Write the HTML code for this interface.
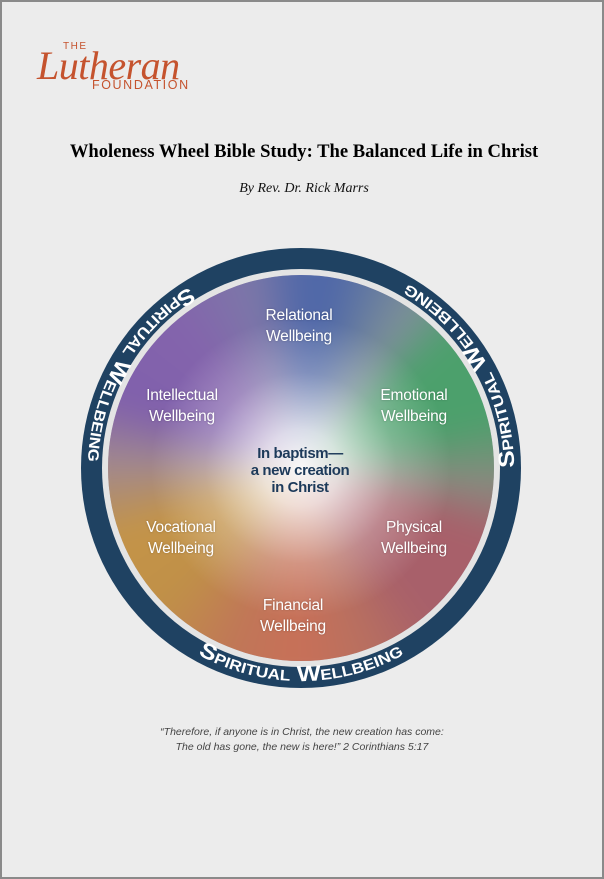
<!DOCTYPE html>
<html><head><meta charset="utf-8"><style>
html,body{margin:0;padding:0}
body{width:604px;height:879px;background:#ececec;position:relative;overflow:hidden;font-family:"Liberation Sans",sans-serif}
.frame{position:absolute;left:0;top:0;width:600px;height:875px;border:2px solid #8a8a8a}
.t{position:absolute;white-space:nowrap}
.disc{position:absolute;left:108px;top:275px;width:386px;height:386px;border-radius:50%;overflow:hidden;background:#b0a8b8}
.cg{position:absolute;left:-30px;top:-30px;width:446px;height:446px;
background:conic-gradient(from 0deg,#5068a8 0deg,#5068a8 10deg,#7e9098 35deg,#4ca06c 50deg,#4ca06c 75deg,#8a8a80 95deg,#a8606a 110deg,#a8606a 140deg,#b87060 160deg,#c87058 180deg,#c07658 200deg,#c09048 225deg,#c49448 250deg,#a08890 272deg,#8060ac 290deg,#8464ac 320deg,#7c78a8 345deg,#5068a8 360deg);
filter:blur(14px)}
.rg{position:absolute;left:0;top:0;width:386px;height:386px;
background:radial-gradient(circle at 50% 50%,rgba(255,255,255,.95) 0,rgba(255,255,255,.75) 14%,rgba(255,255,255,.25) 35%,rgba(255,255,255,0) 55%)}
.lab{position:absolute;color:#fff;font-size:15.5px;line-height:21px;text-align:center;width:140px;letter-spacing:-0.2px;text-shadow:0 0 2px rgba(0,0,0,.25)}
</style></head><body>
<div class="frame"></div>
<div class="t" style="left:63px;top:41px;font-size:10px;letter-spacing:1.5px;color:#c5532e">THE</div>
<div class="t" style="left:37px;top:42px;font-family:'Liberation Serif',serif;font-style:italic;font-size:40px;color:#c5532e;letter-spacing:-0.5px">Lutheran</div>
<div class="t" style="left:92px;top:78px;font-size:12.5px;letter-spacing:1.6px;color:#c5532e">FOUNDATION</div>
<div class="t" style="left:0;width:608px;text-align:center;top:141px;font-family:'Liberation Serif',serif;font-weight:bold;font-size:18.6px;color:#000">Wholeness Wheel Bible Study: The Balanced Life in Christ</div>
<div class="t" style="left:0;width:608px;text-align:center;top:181px;font-family:'Liberation Serif',serif;font-style:italic;font-size:14px;color:#111">By Rev. Dr. Rick Marrs</div>

<svg style="position:absolute;left:0;top:0" width="604" height="879">
<circle cx="301" cy="468" r="220" fill="#1f4262"/>
<circle cx="301" cy="468" r="199" fill="#e4e4e4"/>
</svg>
<div class="disc"><div class="cg"></div><div class="rg"></div></div>
<svg style="position:absolute;left:0;top:0" width="604" height="879">
<defs><path id="ring" d="M194.5,652.5 A213,213 0 1,0 407.5,283.5 A213,213 0 1,0 194.5,652.5"/></defs>
<g fill="#fff" font-family="Liberation Sans,sans-serif" font-weight="bold" font-size="22" style="font-variant:small-caps" text-anchor="middle">
<text><textPath href="#ring" startOffset="8.33%" textLength="215" lengthAdjust="spacingAndGlyphs">Spiritual Wellbeing</textPath></text>
<text><textPath href="#ring" startOffset="41.67%" textLength="222" lengthAdjust="spacingAndGlyphs">Spiritual Wellbeing</textPath></text>
<text><textPath href="#ring" startOffset="75%" textLength="210" lengthAdjust="spacingAndGlyphs">Spiritual Wellbeing</textPath></text>
</g>
</svg>
<div class="lab" style="left:229px;top:305px">Relational<br>Wellbeing</div>
<div class="lab" style="left:344px;top:385px">Emotional<br>Wellbeing</div>
<div class="lab" style="left:112px;top:385px">Intellectual<br>Wellbeing</div>
<div class="lab" style="left:111px;top:517px">Vocational<br>Wellbeing</div>
<div class="lab" style="left:344px;top:517px">Physical<br>Wellbeing</div>
<div class="lab" style="left:223px;top:595px">Financial<br>Wellbeing</div>
<div class="lab" style="left:220px;top:445px;width:160px;color:#1d3a5a;text-shadow:none;line-height:17px;font-size:15px;font-weight:bold;letter-spacing:-0.4px">In baptism—<br>a new creation<br>in Christ</div>
<div class="t" style="left:0;width:604px;text-align:center;top:725px;font-size:10.5px;line-height:15px;font-style:italic;color:#444">“Therefore, if anyone is in Christ, the new creation has come:<br>The old has gone, the new is here!” 2 Corinthians 5:17</div>
</body></html>
